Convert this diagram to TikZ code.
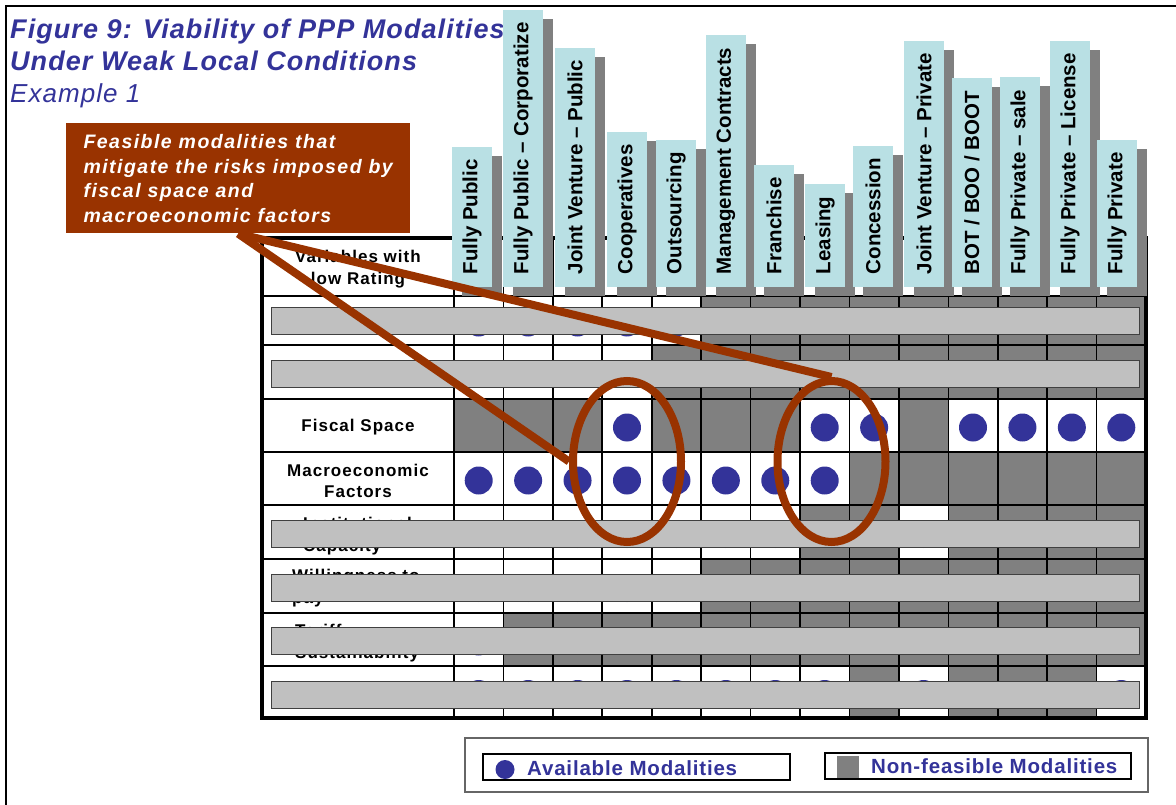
\documentclass[tikz,border=0pt]{standalone}
\usepackage{fontspec}
\setmainfont{Liberation Sans}
\newfontfamily\titlefont[LetterSpace=4]{Liberation Sans}
\newfontfamily\notefont[LetterSpace=7.5]{Liberation Sans}
\newfontfamily\rowfont[LetterSpace=6]{Liberation Sans}
\newfontfamily\legfont[LetterSpace=4]{Liberation Sans}
\usetikzlibrary{shapes.geometric}
\definecolor{figblue}{HTML}{333399}
\definecolor{notebrown}{HTML}{993300}
\definecolor{hdcyan}{HTML}{B9E0E4}
\definecolor{darkcell}{HTML}{808080}
\definecolor{bargray}{HTML}{C0C0C0}

\begin{document}
\begin{tikzpicture}
	[x=1pt,y=-1pt,
	cell/.style={line width=1.6},
	nofeas/.style={fill=darkcell},
	avail/.style={fill=figblue},
	hdbox/.style={rotate=90,anchor=west,fill=hdcyan,minimum height=40,inner xsep=12.5,inner ysep=0,
		font=\bfseries\fontsize{20.5}{24}\selectfont},
	hdshade/.style={hdbox,fill=darkcell,text=darkcell},
	rowlbl/.style={align=center,inner sep=0,font=\rowfont\bfseries\fontsize{17}{21.5}\selectfont},
	bar/.style={fill=bargray,draw=black!75,line width=1},
	ring/.style={ellipse,draw=notebrown,line width=8,minimum width=108,minimum height=161},
	link/.style={draw=notebrown,line width=8},
	note/.style={fill=notebrown,text=white,align=left,minimum width=344,minimum height=110,inner sep=0,
		font=\notefont\bfseries\itshape\fontsize{19.5}{24.5}\selectfont},
	titletext/.style={text=figblue,inner sep=0,anchor=base west,font=\titlefont\bfseries\itshape\fontsize{27}{30}\selectfont},
	legtext/.style={text=figblue,inner sep=0,anchor=base west,font=\legfont\bfseries\fontsize{20.5}{24}\selectfont}]
		\useasboundingbox (0,0) rectangle (1176,805);
		\draw[line width=2] (6,812) -- (6,6) -- (1182,6);
		\node[titletext] (title) at (10,39) {Figure 9: Viability of PPP Modalities};
		\node[titletext] (title2) at (10,71) {Under Weak Local Conditions};
		\node[titletext,font=\titlefont\itshape\fontsize{26}{30}\selectfont] (example) at (10,103) {Example 1};
		\fill[white] (262,238) rectangle (1146,718);
		\foreach \ytop/\ybot/\cells in {
			296/345/{d,d,d,d,d,g,g,g,g,g,g,g,g,g},
			345/399/{w,w,w,w,g,g,g,g,g,g,g,g,g,g},
			399/452/{g,g,g,d,g,g,g,d,d,g,d,d,d,d},
			452/505/{d,d,d,d,d,d,d,d,g,g,g,g,g,g},
			505/559/{d,d,d,d,d,d,d,g,g,d,g,g,g,g},
			559/613/{d,d,d,d,d,g,g,g,g,g,g,g,g,g},
			613/666/{d,g,g,g,g,g,g,g,g,g,g,g,g,g},
			666/718/{d,d,d,d,d,d,d,d,g,d,g,g,g,d}}
		{
			\foreach \s [count=\c] in \cells {
				\pgfmathsetmacro\xl{454+(\c-1)*49.43}
				\if g\s \fill[nofeas] (\xl,\ytop) rectangle ({\xl+49.43},\ybot); \fi
				\if d\s \fill[avail] ({\xl+24.7},{(\ytop+\ybot)/2+2}) circle (14); \fi
			}
		}
		\foreach \y in {296,345,399,452,505,559,613,666}
			\draw[cell] (262,\y) -- (1146,\y);
		\foreach \c in {0,...,14}
			\draw[cell] ({454+\c*49.43},238) -- ({454+\c*49.43},718);
		\draw[line width=3.5] (262,238) rectangle (1146,718);
		\foreach \xc/\lbl [count=\c] in {472/Fully Public, 523/Fully Public – Corporatize,
			575/Joint Venture – Public, 627/Cooperatives, 676/Outsourcing, 726/Management Contracts,
			774/Franchise, 825/Leasing, 873/Concession, 924/Joint Venture – Private,
			972/{BOT / BOO / BOOT}, 1020/Fully Private – sale, 1070/Fully Private – License, 1117/Fully Private}
		{
			\node[hdshade] at ({\xc+10},296) {\lbl};
			\node[hdbox] (hd\c) at (\xc,287) {\lbl};
		}
		\node[rowlbl] (vars) at (358,269) {Variables with\\low Rating};
		\node[rowlbl] (fiscal) at (358,427) {Fiscal Space};
		\node[rowlbl] (macro) at (358,481) {Macroeconomic\\Factors};
		\node[rowlbl,align=left,anchor=west] (inst) at (303,536) {Institutional\\Capacity};
		\node[rowlbl,align=left,anchor=west] (will) at (292,588) {Willingness to\\pay};
		\node[rowlbl,align=left,anchor=west] (tariff) at (295,643) {Tariff\\Sustainability};
		\foreach \y in {320.7,374,534.2,587.9,641.4,694.8}
			\draw[bar] (271,{\y-13.5}) rectangle (1139,{\y+13.5});
		\node[note,anchor=north west] (note) at (66,123.3) {Feasible modalities that\\mitigate the risks imposed by\\fiscal space and\\macroeconomic factors};
		\node[ring] (ringA) at (627,461.5) {};
		\node[ring] (ringB) at (831.5,461.5) {};
		\draw[link] (note.south) -- (ringA.west);
		\draw[link] (note.south) -- (ringB.north);
		\draw[draw=black!60,line width=1.5] (465,738) rectangle (1148,792);
		\draw[line width=1.2] (483,754) rectangle (790,780);
		\fill[avail] (505,769.5) circle (9.5);
		\node[legtext] (availtxt) at (527,775) {Available Modalities};
		\draw[line width=1.2] (825,753) rectangle (1131,779);
		\fill[nofeas] (837,756) rectangle (859,778);
		\node[legtext] (nofeastxt) at (871,773.5) {Non-feasible Modalities};
	\end{tikzpicture}
\end{document}
